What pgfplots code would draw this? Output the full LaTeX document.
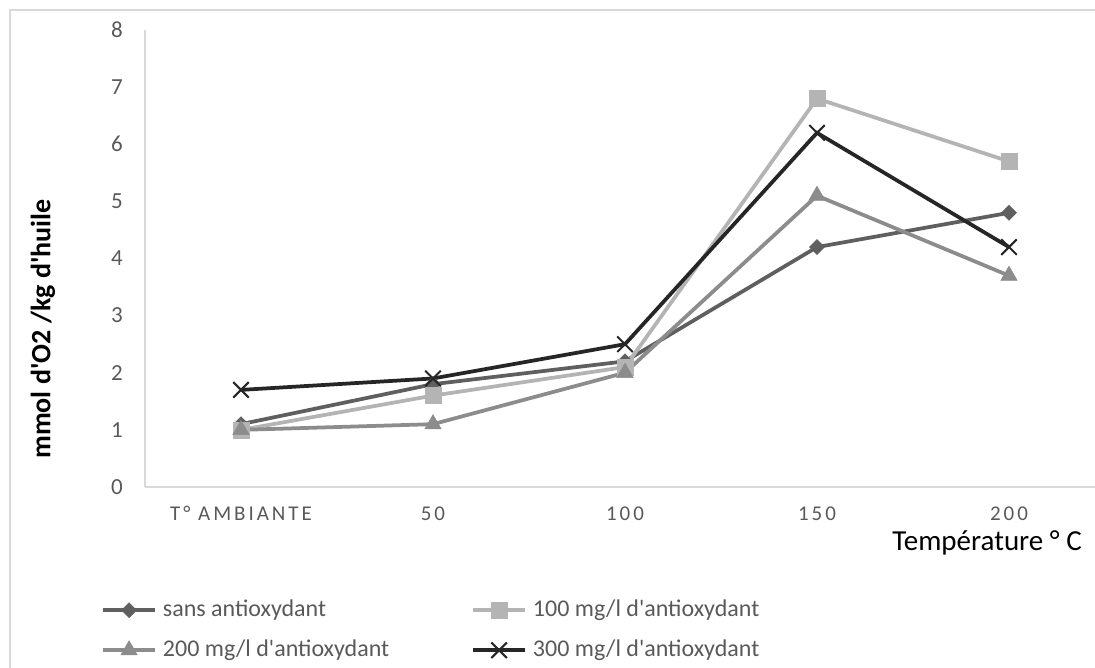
\documentclass[border=0pt]{standalone}
\usepackage{fontspec}
\setmainfont{Carlito}
\newfontfamily\tickfont[LetterSpace=14]{Carlito}
\usepackage{pgfplots}
\pgfplotsset{compat=1.18}
\definecolor{cA}{HTML}{5F5F5F}
\definecolor{cB}{HTML}{B4B4B4}
\definecolor{cC}{HTML}{8C8C8C}
\definecolor{cD}{HTML}{262626}
\definecolor{axisgray}{HTML}{D9D9D9}
\definecolor{ticktext}{HTML}{595959}
\begin{document}
\begin{tikzpicture}
\path[use as bounding box] (0pt,0pt) rectangle (1095pt,-668pt);
\clip (0pt,0pt) rectangle (1095pt,-668pt);
\draw[color=axisgray, line width=1.5pt] (10pt,-10pt) rectangle (1300pt,-900pt);
\begin{axis}[
  at={(145pt,-487pt)}, anchor=south west,
  scale only axis, width=960pt, height=457pt,
  xmin=-0.5, xmax=4.5, ymin=0, ymax=8,
  axis x line*=bottom, axis y line*=left,
  axis line style={color=axisgray, line width=1.5pt, -},
  xtick={0,1,2,3,4},
  xticklabels={T° AMBIANTE,50,100,150,200},
  ytick={0,1,...,8},
  major tick length=0pt,
  tick style={draw=none},
  /pgf/number format/assume math mode=true,
  xticklabel style={font=\tickfont\fontsize{21}{25}\selectfont, color=ticktext, inner sep=0pt, text height=13.5pt, text depth=0pt, anchor=north, yshift=-20pt},
  yticklabel style={font=\fontsize{23}{27}\selectfont, color=ticktext, inner sep=0pt, text height=14.5pt, text depth=0pt, anchor=east, xshift=-22pt},
  xlabel={Température ° C},
  xlabel style={font=\fontsize{29}{33}\selectfont, color=black, at={(axis description cs:0.976,-0.138)}, anchor=base east, inner sep=0pt},
  ylabel={mmol d\textquotesingle O2 /kg d\textquotesingle huile},
  ylabel style={font=\bfseries\fontsize{28}{32}\selectfont, color=black, at={(axis description cs:-0.10625,0.3457)}, anchor=center, rotate=0},
  legend columns=2,
  legend cell align=left,
  legend style={draw=none, fill=none, at={(axis description cs:-0.04583,-0.2451)}, anchor=north west, inner sep=0pt, row sep=18pt,
    font=\fontsize{24}{28}\selectfont, text=ticktext,
    nodes={inner xsep=0pt, inner ysep=0pt, text height=17pt, text depth=5pt},
    /tikz/every odd column/.append style={column sep=6pt},
    /tikz/every even column/.append style={column sep=82pt}},
  legend image code/.code={\draw[mark repeat=2, mark phase=2, #1] plot coordinates {(0pt,0pt) (26pt,0pt) (52pt,0pt)};},
  clip=false,
]
\addplot[color=cA, line width=3.75pt, mark=square*, mark size=5.3pt, mark options={solid, rotate=45, line width=0.5pt, fill=cA}]
  coordinates {(0,1.1) (1,1.8) (2,2.2) (3,4.2) (4,4.8)};
\addlegendentry{sans antioxydant}
\addplot[color=cB, line width=3.75pt, mark=square*, mark size=8pt, mark options={solid, line width=0.5pt, fill=cB}]
  coordinates {(0,1.0) (1,1.6) (2,2.1) (3,6.8) (4,5.7)};
\addlegendentry{100 mg/l d\textquotesingle antioxydant}
\addplot[color=cC, line width=3.75pt, mark=triangle*, mark size=9.5pt, mark options={solid, line width=0.5pt, fill=cC}]
  coordinates {(0,1.0) (1,1.1) (2,2.0) (3,5.1) (4,3.7)};
\addlegendentry{200 mg/l d\textquotesingle antioxydant}
\addplot[color=cD, line width=3.75pt, mark=x, mark size=11pt, mark options={solid, line width=2pt}]
  coordinates {(0,1.7) (1,1.9) (2,2.5) (3,6.2) (4,4.2)};
\addlegendentry{300 mg/l d\textquotesingle antioxydant}
\end{axis}
\end{tikzpicture}
\end{document}
